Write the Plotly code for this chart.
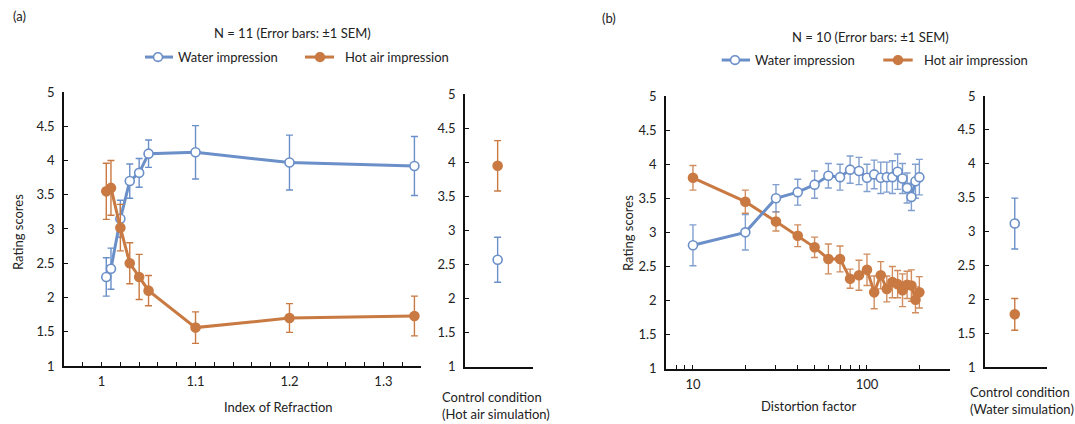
import plotly.graph_objects as go

# ---------------- data ----------------
# Panel (a): index of refraction
ior = [1.005, 1.01, 1.02, 1.03, 1.04, 1.05, 1.1, 1.2, 1.333]
a_water = [2.30, 2.42, 3.15, 3.70, 3.82, 4.10, 4.12, 3.97, 3.92]
a_water_sem = [0.28, 0.30, 0.27, 0.25, 0.21, 0.20, 0.39, 0.40, 0.43]
a_hot = [3.55, 3.60, 3.02, 2.50, 2.30, 2.10, 1.56, 1.70, 1.73]
a_hot_sem = [0.41, 0.40, 0.34, 0.30, 0.33, 0.22, 0.23, 0.21, 0.29]
a_ctrl_water, a_ctrl_water_sem = 2.57, 0.33
a_ctrl_hot, a_ctrl_hot_sem = 3.95, 0.37

# Panel (b): distortion factor
dist = [10, 20, 30, 40, 50, 60, 70, 80, 90, 100, 110, 120, 130, 140, 150,
        160, 170, 180, 190, 200]
b_water = [2.81, 3.00, 3.50, 3.59, 3.70, 3.83, 3.81, 3.92, 3.90, 3.80, 3.85,
           3.80, 3.81, 3.81, 3.89, 3.79, 3.65, 3.52, 3.75, 3.81]
b_water_sem = [0.30, 0.26, 0.20, 0.19, 0.20, 0.18, 0.19, 0.20, 0.20, 0.20,
               0.21, 0.23, 0.22, 0.24, 0.26, 0.22, 0.22, 0.20, 0.25, 0.26]
b_hot = [3.80, 3.45, 3.16, 2.95, 2.78, 2.61, 2.61, 2.32, 2.37, 2.45, 2.12,
         2.37, 2.17, 2.27, 2.24, 2.15, 2.23, 2.22, 2.01, 2.12]
b_hot_sem = [0.18, 0.17, 0.14, 0.16, 0.15, 0.22, 0.19, 0.14, 0.22, 0.23,
             0.24, 0.20, 0.19, 0.23, 0.20, 0.24, 0.20, 0.23, 0.19, 0.23]
b_ctrl_water, b_ctrl_water_sem = 3.12, 0.375
b_ctrl_hot, b_ctrl_hot_sem = 1.78, 0.235

y_ticks = [1, 1.5, 2, 2.5, 3, 3.5, 4, 4.5, 5]
y_ticktext = ['1', '1.5', '2', '2.5', '3', '3.5', '4', '4.5', '5']
a_xticks = [round(0.96 + 0.02 * i, 2) for i in range(20)]
a_xlabels = {1.0: '1', 1.1: '1.1', 1.2: '1.2', 1.3: '1.3'}
b_xticks = [7, 8, 9, 10, 20, 30, 40, 50, 60, 70, 80, 90, 100, 200, 300]
b_xlabels = {10: '10', 100: '100'}

# ---------------- style ----------------
W, H = 1075, 424
BLUE = '#6b8fc8'
ORANGE = '#c97942'
BLUE_EB = 'rgba(107,143,200,0.85)'
ORANGE_EB = 'rgba(201,121,66,0.85)'
FONT = 'Lato'
TXT = '#222222'
FS = 13
VS = 0.9625  # observed vertical compression of the rendered page


def px(x):
    return x / W


def py(y):
    yy = 212 + (y - 212) / VS
    return 1 - yy / H


fig = go.Figure()


def add_series(x, y, sem, xa, ya, water, lines=True, ebcol=None):
    col = BLUE if water else ORANGE
    marker = dict(size=9, color='white' if water else col,
                  line=dict(color=col, width=1.6))
    fig.add_trace(go.Scatter(
        x=x, y=y, xaxis=xa, yaxis=ya,
        mode='lines+markers' if lines else 'markers',
        line=dict(color=col, width=3),
        marker=marker,
        error_y=dict(type='data', array=sem, visible=True,
                     color=ebcol or col, thickness=1.4, width=3.5),
        showlegend=False, hoverinfo='skip'))


add_series(ior, a_water, a_water_sem, 'x', 'y', True)
add_series(ior, a_hot, a_hot_sem, 'x', 'y', False)
add_series([0.48], [a_ctrl_hot], [a_ctrl_hot_sem], 'x2', 'y2', False, lines=False)
add_series([0.48], [a_ctrl_water], [a_ctrl_water_sem], 'x2', 'y2', True, lines=False)
add_series(dist, b_hot, b_hot_sem, 'x3', 'y3', False, ebcol=ORANGE_EB)
add_series(dist, b_water, b_water_sem, 'x3', 'y3', True, ebcol=BLUE_EB)
add_series([0.48], [b_ctrl_water], [b_ctrl_water_sem], 'x4', 'y4', True, lines=False)
add_series([0.48], [b_ctrl_hot], [b_ctrl_hot_sem], 'x4', 'y4', False, lines=False)

axis_common = dict(showgrid=False, zeroline=False, showline=True,
                   linecolor='#111111', linewidth=1.6, ticks='inside',
                   ticklen=4, tickwidth=1.3, tickcolor='#111111',
                   tickfont=dict(family=FONT, size=FS, color=TXT))

yaxis_common = dict(axis_common, range=[1, 5], tickmode='array',
                    tickvals=y_ticks, ticktext=y_ticktext,
                    ticklabelstandoff=5)

fig.update_layout(
    width=W, height=H, autosize=False,
    margin=dict(l=0, r=0, t=0, b=0),
    paper_bgcolor='white', plot_bgcolor='white',
    font=dict(family=FONT, size=FS, color=TXT),
    xaxis=dict(axis_common, domain=[px(64), px(421)], range=[0.96, 1.34],
               anchor='y', tickmode='array', tickvals=a_xticks,
               ticktext=[a_xlabels.get(round(v, 2), '') for v in a_xticks],
               ticklabelstandoff=3),
    yaxis=dict(yaxis_common, domain=[py(366), py(92)], anchor='x'),
    xaxis2=dict(axis_common, domain=[px(465), px(533)], range=[0, 1],
                anchor='y2', ticks='', showticklabels=False),
    yaxis2=dict(yaxis_common, domain=[py(366.7), py(94.3)], anchor='x2'),
    xaxis3=dict(axis_common, type='log', domain=[px(666), px(950)],
                range=[0.8451, 2.4771], anchor='y3', tickmode='array',
                tickvals=b_xticks,
                ticktext=[b_xlabels.get(v, '') for v in b_xticks],
                ticklabelstandoff=3),
    yaxis3=dict(yaxis_common, domain=[py(368.7), py(96)], anchor='x3'),
    xaxis4=dict(axis_common, domain=[px(985), px(1047)], range=[0, 1],
                anchor='y4', ticks='', showticklabels=False),
    yaxis4=dict(yaxis_common, domain=[py(367.3), py(96)], anchor='x4'),
)

ann = []


def text(t, x, y, xanchor='center', size=FS, angle=0, align='center'):
    ann.append(dict(text=t, x=px(x), y=py(y), xref='paper', yref='paper',
                    xanchor=xanchor, yanchor='middle', showarrow=False,
                    textangle=angle, align=align,
                    font=dict(family=FONT, size=size, color=TXT)))


text('(a)', 19, 16)
text('(b)', 609, 18)
text('N = 11 (Error bars: \u00b11 SEM)', 292.5, 33)
text('N = 10 (Error bars: \u00b11 SEM)', 870.7, 37)
text('Water impression', 176, 57, xanchor='left')
text('Hot air impression', 343, 57, xanchor='left')
text('Water impression', 752.7, 60, xanchor='left')
text('Hot air impression', 921.7, 60, xanchor='left')
text('Rating scores', 17.3, 231.7, angle=-90)
text('Rating scores', 628, 233, angle=-90)
text('Index of Refraction', 278, 406.7)
text('Distortion factor', 808, 406)
text('Control condition<br>(Hot air simulation)', 440, 405.5,
     xanchor='left', align='left')
text('Control condition<br>(Water simulation)', 968, 400.5,
     xanchor='left', align='left')

shapes = []


def legend_sample(x0, x1, xm, y, water):
    col = BLUE if water else ORANGE
    shapes.append(dict(type='line', xref='paper', yref='paper',
                       x0=px(x0), x1=px(x1), y0=py(y), y1=py(y),
                       line=dict(color=col, width=3)))
    r = 4.5
    shapes.append(dict(type='circle', xref='paper', yref='paper',
                       x0=px(xm - r), x1=px(xm + r),
                       y0=py(y) - r / H, y1=py(y) + r / H,
                       fillcolor='white' if water else col,
                       line=dict(color=col, width=1.6)))


legend_sample(145, 173, 158, 57, True)
legend_sample(305, 334, 320, 57, False)
legend_sample(721.7, 750, 735, 60, True)
legend_sample(883.3, 912.7, 898, 60, False)

fig.update_layout(annotations=ann, shapes=shapes)
fig.write_html('out.html', config={'displayModeBar': False},
               post_script="document.body.style.margin='0';"
                           "document.body.style.overflow='hidden';")
